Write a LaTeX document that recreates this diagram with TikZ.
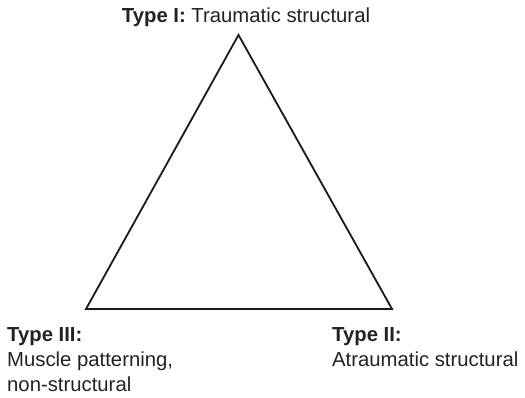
\documentclass[tikz,border=0pt]{standalone}
\usepackage{fontspec}
\setmainfont{Liberation Sans}
\definecolor{txt}{HTML}{222222}
\begin{document}
\begin{tikzpicture}[x=1pt,y=-1pt,
  lbl/.style={inner sep=0pt,text=txt,font=\fontsize{20.3}{25}\selectfont,align=left},
  tri/.style={line width=1.8pt,line join=miter,black!90}]
\useasboundingbox (0,0) rectangle (525,397);
\coordinate (A) at (238.5,35);
\coordinate (B) at (86,309);
\coordinate (C) at (392,309);
\draw[tri] (A) -- (B) -- (C) -- cycle;
\node[lbl,anchor=base] (t1) at (246,22) {\textbf{Type I:} Traumatic structural};
\node[lbl,anchor=base west] (t3) at (7,391) {\textbf{Type III:}\\Muscle patterning,\\non-structural};
\node[lbl,anchor=base west] (t2) at (332,366) {\textbf{Type II:}\\Atraumatic structural};
\end{tikzpicture}
\end{document}
